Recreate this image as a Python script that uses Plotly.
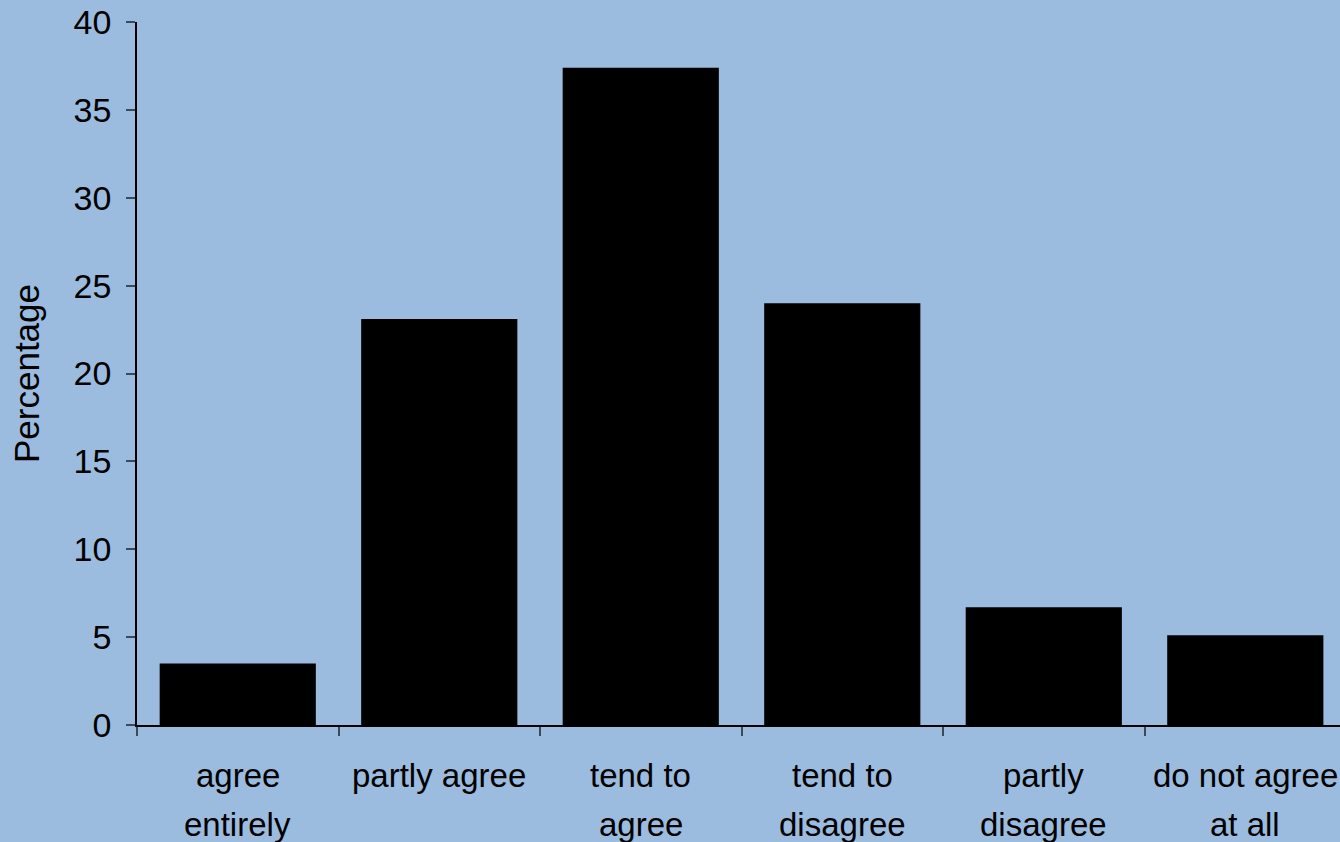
import plotly.graph_objects as go

categories = [
    "agree<br>entirely",
    "partly agree",
    "tend to<br>agree",
    "tend to<br>disagree",
    "partly<br>disagree",
    "do not agree<br>at all",
]
percentages = [3.5, 23.1, 37.4, 24.0, 6.7, 5.1]
y_ticks = [0, 5, 10, 15, 20, 25, 30, 35, 40]

BG = "#9BBCDF"
FONT = "Liberation Sans, Arial, sans-serif"

fig = go.Figure(
    go.Bar(
        x=categories,
        y=percentages,
        marker=dict(color="black", line=dict(width=0)),
        width=0.775,
    )
)

# category labels: each line placed separately for wider line spacing
LINE_GAP = 49
for cat in categories:
    for i, line in enumerate(cat.split("<br>")):
        fig.add_annotation(
            x=cat,
            y=0,
            xref="x",
            yref="paper",
            text=line,
            showarrow=False,
            xanchor="center",
            yanchor="top",
            yshift=-30 - i * LINE_GAP,
            font=dict(family=FONT, size=33, color="black"),
        )

fig.update_layout(
    width=1340,
    height=842,
    paper_bgcolor=BG,
    plot_bgcolor=BG,
    margin=dict(l=137, r=0, t=22, b=117),
    showlegend=False,
    font=dict(family=FONT, size=33, color="black"),
)

fig.update_xaxes(
    type="category",
    range=[-0.5, 5.47],
    showline=True,
    linecolor="black",
    linewidth=1.5,
    ticks="outside",
    tickson="boundaries",
    ticklen=9,
    tickcolor="#3a4a5a",
    tickwidth=1.5,
    showgrid=False,
    showticklabels=False,
    zeroline=False,
)

fig.update_yaxes(
    range=[0, 40],
    tickvals=y_ticks,
    showline=True,
    linecolor="black",
    linewidth=1.5,
    ticks="outside",
    ticklen=9,
    tickcolor="#3a4a5a",
    tickwidth=1.5,
    showgrid=False,
    zeroline=False,
    ticklabelstandoff=8,
    tickfont=dict(family=FONT, size=34),
    title=dict(text="Percentage", font=dict(family=FONT, size=35), standoff=23),
)

fig.write_html("out.html")
